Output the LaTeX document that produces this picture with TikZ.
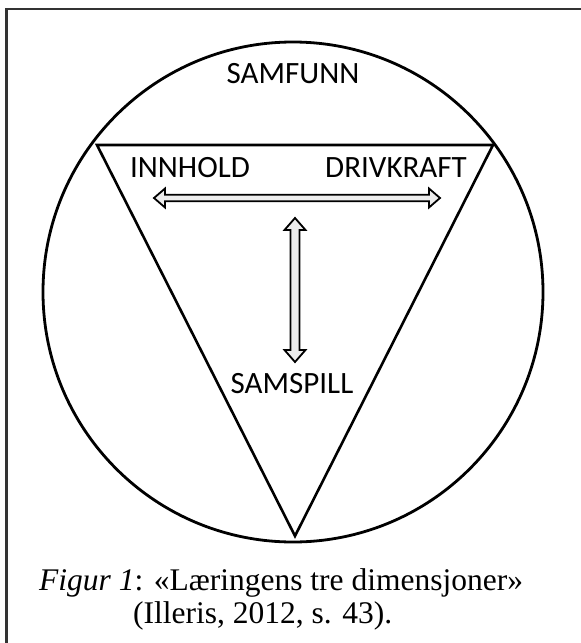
\documentclass[tikz,border=0pt]{standalone}
\usepackage{fontspec}
\usetikzlibrary{calc}
\setmainfont{Carlito}
\newfontfamily\capfont{Liberation Serif}
\begin{document}
\begin{tikzpicture}[x=1pt,y=-1pt,
  lbl/.style={font=\fontsize{31}{36}\selectfont, inner sep=0pt},
  captext/.style={font=\capfont\fontsize{31.5}{33}\selectfont, inner sep=0pt},
  hollow/.style={draw=black, line width=1.8pt, fill=black!7, line join=miter}]
\useasboundingbox (0,0) rectangle (581,643);
\draw[line width=2.2pt, black!80] (6.5,643) -- (6.5,9) -- (581,9);
\node[draw, circle, line width=2.8pt, minimum size=500pt, inner sep=0pt] (circ) at (293,292) {};
\coordinate (tl) at (97,145);
\coordinate (tr) at (493,145);
\coordinate (tb) at (295,536);
\draw[line width=2.6pt, line join=miter] (tl) -- (tr) -- (tb) -- cycle;
\node[lbl] (samfunn) at (293,74) {SAMFUNN};
\node[lbl] (innhold) at (190,168) {INNHOLD};
\node[lbl] (drivkraft) at (396,168) {DRIVKRAFT};
\node[lbl] (samspill) at (292,384) {SAMSPILL};
% horizontal double arrow
\coordinate (hl) at (154,198);
\coordinate (hr) at (440,198);
\draw[hollow] (hl) -- ++(11,-9.5) -- ++(0,6.3) -- ($(hr)+(-11,-3.2)$) -- ++(0,-6.3) -- (hr) -- ++(-11,9.5) -- ++(0,-6.3) -- ($(hl)+(11,3.2)$) -- ++(0,6.3) -- cycle;
% vertical double arrow
\coordinate (vt) at (295,218);
\coordinate (vb) at (295,362);
\draw[hollow] (vt) -- ++(10.5,12) -- ++(-6,0) -- ($(vb)+(4.5,-12)$) -- ++(6,0) -- (vb) -- ++(-10.5,-12) -- ++(6,0) -- ($(vt)+(-4.5,12)$) -- ++(-6,0) -- cycle;
\node[captext, anchor=base west] (cap1) at (39,590) {\textit{Figur 1}: «Læringens tre dimensjoner»};
\node[captext, anchor=base west] (cap2) at (133,623) {(Illeris, 2012, s. 43).};
\end{tikzpicture}
\end{document}
